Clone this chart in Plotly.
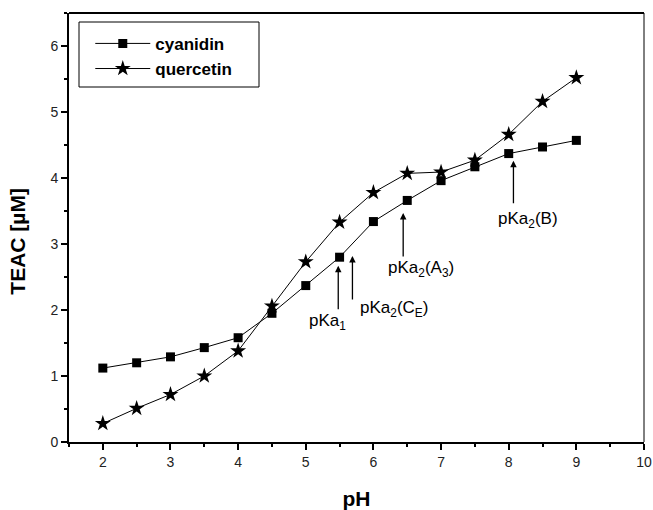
import plotly.graph_objects as go

ph = [2, 2.5, 3, 3.5, 4, 4.5, 5, 5.5, 6, 6.5, 7, 7.5, 8, 8.5, 9]
cyanidin = [1.12, 1.20, 1.29, 1.43, 1.58, 1.95, 2.37, 2.80, 3.34, 3.66, 3.96, 4.17, 4.37, 4.47, 4.57]
quercetin = [0.28, 0.51, 0.72, 1.00, 1.38, 2.06, 2.73, 3.33, 3.78, 4.07, 4.09, 4.27, 4.66, 5.16, 5.52]

# annotations: arrow x (pH), arrow head y (TEAC), tail offset px, label, label x, label y
ann_x = [5.48, 5.69, 6.44, 8.07]
ann_head = [2.67, 2.82, 3.47, 4.26]
ann_len = [45, 45, 45, 44]
ann_text = ["pKa<sub>1</sub>", "pKa<sub>2</sub>(C<sub>E</sub>)", "pKa<sub>2</sub>(A<sub>3</sub>)", "pKa<sub>2</sub>(B)"]
ann_tx = [5.32, 6.31, 6.71, 8.29]
ann_ty = [1.82, 2.01, 2.62, 3.36]

font = "Liberation Sans, Arial, sans-serif"

fig = go.Figure()
fig.add_trace(go.Scatter(x=ph, y=cyanidin, mode="lines+markers", name="cyanidin",
                         line=dict(color="black", width=1),
                         marker=dict(symbol="square", size=9, color="black")))
fig.add_trace(go.Scatter(x=ph, y=quercetin, mode="lines+markers", name="quercetin",
                         line=dict(color="black", width=1),
                         marker=dict(symbol="star", size=12, color="black")))

for x, yh, L in zip(ann_x, ann_head, ann_len):
    fig.add_annotation(x=x, y=yh, ax=0, ay=L, text="", showarrow=True,
                       arrowhead=2, arrowsize=1, arrowwidth=1.3, arrowcolor="black",
                       xref="x", yref="y")
for t, x, y in zip(ann_text, ann_tx, ann_ty):
    fig.add_annotation(x=x, y=y, text=t, showarrow=False, xref="x", yref="y",
                       font=dict(family=font, size=17, color="black"))

# y axis title
fig.add_annotation(x=-0.091, y=(442 - 241) / 429, xref="paper", yref="paper",
                   xanchor="center", yanchor="middle",
                   text="TEAC [µM]", textangle=-90, showarrow=False,
                   font=dict(family=font, size=21, weight="bold", color="black"))

# frame: thick top, thin right
fig.add_shape(type="line", xref="paper", yref="paper", x0=0, x1=1, y0=1, y1=1,
              line=dict(color="black", width=2))
fig.add_shape(type="line", xref="paper", yref="paper", x0=1, x1=1, y0=0, y1=1,
              line=dict(color="black", width=1))
# legend box
fig.add_shape(type="rect", xref="paper", yref="paper",
              x0=10 / 575, x1=190 / 575, y0=(442 - 87) / 429, y1=(442 - 22) / 429,
              line=dict(color="black", width=1), fillcolor="rgba(0,0,0,0)")

fig.update_layout(
    width=653, height=510,
    margin=dict(l=69, r=9, t=13, b=68),
    plot_bgcolor="white", paper_bgcolor="white",
    font=dict(family=font, color="black", size=14),
    legend=dict(x=0.037, y=0.97, xanchor="left", yanchor="top",
                borderwidth=0, bgcolor="rgba(0,0,0,0)",
                font=dict(family=font, size=17, weight="bold"),
                itemwidth=55, tracegroupgap=0),
    xaxis=dict(range=[1.5, 10], tickmode="linear", tick0=2, dtick=1, automargin=False,
               showgrid=False, zeroline=False, showline=True, linecolor="black", linewidth=2,
               ticks="outside", ticklen=6, tickwidth=1.5, tickcolor="black",
               minor=dict(dtick=0.5, tick0=2, ticks="outside", ticklen=3, tickwidth=1.5, tickcolor="black"),
               tickfont=dict(size=14, color="#222"),
               title=dict(text="pH", font=dict(size=21, weight="bold"), standoff=24)),
    yaxis=dict(range=[0, 6.5], tickmode="linear", tick0=0, dtick=1, automargin=False,
               showgrid=False, zeroline=False, showline=True, linecolor="black", linewidth=2,
               ticks="outside", ticklen=6, tickwidth=1.5, tickcolor="black",
               minor=dict(dtick=0.5, tick0=0, ticks="outside", ticklen=3, tickwidth=1.5, tickcolor="black"),
               tickfont=dict(size=14, color="#222")),
)

fig.write_html("out.html")
